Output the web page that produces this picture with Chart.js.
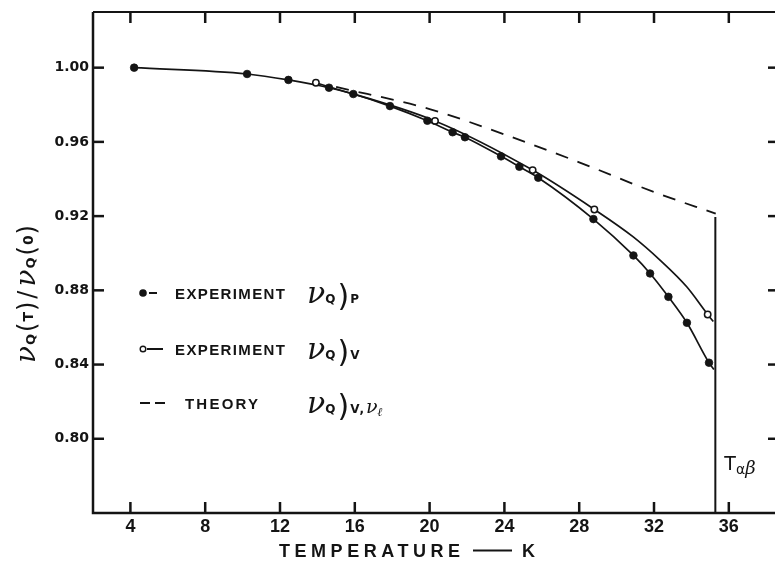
<!DOCTYPE html>
<html>
<head>
<meta charset="utf-8">
<script src="https://cdn.jsdelivr.net/npm/chart.js@4.4.1/dist/chart.umd.min.js"></script>
<style>
html,body{margin:0;padding:0;background:#fff;overflow:hidden}
canvas{display:block}
</style>
</head>
<body>
<canvas id="c" width="775" height="562"></canvas>
<script>
// ---- data ----
const xTickValues = [4, 8, 12, 16, 20, 24, 28, 32, 36];
const yTickValues = [0.80, 0.84, 0.88, 0.92, 0.96, 1.00];

// filled circles: experiment nu_Q)P
const pTemps  = [4.2, 10.24, 12.45, 14.62, 15.92, 17.88, 19.88, 21.23, 21.89, 23.82, 24.8, 25.81, 28.76, 30.9, 31.79, 32.77, 33.76, 34.94];
const pValues = [1.000, 0.9966, 0.9934, 0.9892, 0.9858, 0.9793, 0.9714, 0.9652, 0.9625, 0.9522, 0.9466, 0.9407, 0.9184, 0.8988, 0.8891, 0.8765, 0.8625, 0.8410];
// open circles: experiment nu_Q)V
const vTemps  = [13.92, 20.29, 25.51, 28.81, 34.87];
const vValues = [0.9919, 0.9713, 0.9448, 0.9236, 0.8670];
// the drawn curve through the open circles, read along its length
const vCurveTemps  = [13.92, 20.29, 25.51, 28.81, 30.89, 32.32, 33.75, 34.87, 35.17];
const vCurveValues = [0.9919, 0.9713, 0.9448, 0.9236, 0.9088, 0.8963, 0.8819, 0.8670, 0.8632];
// where the filled-circle curve stops, at the transition line
const pCurveEnd = [35.2, 0.8373];
// dashed theory curve nu_Q)V,nu_l
const theoryTemps  = [15.0, 20.0, 24.0, 28.0, 32.0, 35.3];
const theoryValues = [0.9896, 0.9777, 0.9640, 0.9490, 0.9330, 0.9213];
// transition temperature T_alpha_beta
const transitionTemp = 35.28;
const transitionValues = [0.9195, 0.76];

const legendLabels = ['EXPERIMENT', 'EXPERIMENT', 'THEORY'];
const xTitle = 'TEMPERATURE';
const xUnit = 'K';

// ---- drawing ----
const ink = '#141414';
const pts = (xs, ys) => xs.map((x, i) => ({x: x, y: ys[i]}));

function spacedText(ctx, text, x, y, width, font) {
  ctx.font = font;
  ctx.letterSpacing = '0px';
  const w = ctx.measureText(text).width;
  const sp = text.length > 1 ? (width - w) / (text.length - 1) : 0;
  ctx.letterSpacing = sp + 'px';
  ctx.textAlign = 'left';
  ctx.fillText(text, x, y);
  ctx.letterSpacing = '0px';
}
function richWidth(ctx, pieces) {
  let w = 0;
  pieces.forEach(p => { ctx.font = p.f; w += ctx.measureText(p.t).width + (p.g || 0); });
  return w;
}
function drawRich(ctx, pieces, x, y) {
  let cx = x;
  ctx.textAlign = 'left';
  pieces.forEach(p => {
    ctx.font = p.f;
    ctx.fillText(p.t, cx, y + (p.dy || 0));
    cx += ctx.measureText(p.t).width + (p.g || 0);
  });
}

const NU = 'italic 30px "DejaVu Serif"';
const SUB = 'bold 12px "DejaVu Sans"';
const PAREN = '30px "DejaVu Sans"';

const framePlugin = {
  id: 'frame',
  afterDraw(chart) {
    const ctx = chart.ctx;
    const a = chart.chartArea;
    const xs = chart.scales.x, ys = chart.scales.y;
    ctx.save();
    ctx.strokeStyle = ink;
    ctx.fillStyle = ink;
    ctx.lineCap = 'butt';
    // frame
    ctx.lineWidth = 2.5;
    ctx.beginPath();
    ctx.moveTo(a.left, a.top); ctx.lineTo(a.left, a.bottom); ctx.lineTo(a.right, a.bottom);
    ctx.stroke();
    ctx.lineWidth = 2;
    ctx.beginPath(); ctx.moveTo(a.left, a.top); ctx.lineTo(a.right, a.top); ctx.stroke();
    // inward ticks
    ctx.lineWidth = 2.5;
    xTickValues.forEach(v => {
      const px = xs.getPixelForValue(v);
      ctx.beginPath(); ctx.moveTo(px, a.bottom); ctx.lineTo(px, a.bottom - 11); ctx.stroke();
      ctx.beginPath(); ctx.moveTo(px, a.top); ctx.lineTo(px, a.top + 11); ctx.stroke();
    });
    yTickValues.forEach(v => {
      const py = ys.getPixelForValue(v);
      ctx.beginPath(); ctx.moveTo(a.left, py); ctx.lineTo(a.left + 11, py); ctx.stroke();
      ctx.beginPath(); ctx.moveTo(a.right - 7, py); ctx.lineTo(a.right, py); ctx.stroke();
    });

    // x title
    ctx.textBaseline = 'alphabetic';
    spacedText(ctx, xTitle, 279, 557, 181, 'bold 18px "Liberation Sans"');
    ctx.lineWidth = 2;
    ctx.beginPath(); ctx.moveTo(473, 550.5); ctx.lineTo(512, 550.5); ctx.stroke();
    ctx.font = 'bold 18px "Liberation Sans"';
    ctx.fillText(xUnit, 522, 557);

    // y title (rotated)
    const yt = [
      {t: 'ν', f: 'italic 28px "DejaVu Serif"', g: 1},
      {t: 'Q', f: 'bold 13px "DejaVu Sans"', g: 2},
      {t: '(', f: '24px "DejaVu Sans"', g: 1},
      {t: 'T', f: 'bold 14px "DejaVu Sans"', dy: -2.5, g: 1},
      {t: ')', f: '24px "DejaVu Sans"', g: 3},
      {t: '/', f: '24px "DejaVu Sans"', g: 4},
      {t: 'ν', f: 'italic 28px "DejaVu Serif"', g: 1},
      {t: 'Q', f: 'bold 13px "DejaVu Sans"', g: 2},
      {t: '(', f: '24px "DejaVu Sans"', g: 1},
      {t: '0', f: 'bold 14px "DejaVu Sans"', dy: -2.5, g: 1},
      {t: ')', f: '24px "DejaVu Sans"', g: 0}
    ];
    const yw = richWidth(ctx, yt);
    ctx.save();
    ctx.translate(35, 294 + yw / 2);
    ctx.rotate(-Math.PI / 2);
    drawRich(ctx, yt, 0, 0);
    ctx.restore();

    // legend
    const rows = [293, 349, 403];
    ctx.lineWidth = 2;
    ctx.beginPath(); ctx.arc(143, rows[0], 3.8, 0, Math.PI * 2); ctx.fill();
    ctx.beginPath(); ctx.moveTo(149, rows[0]); ctx.lineTo(157, rows[0]); ctx.stroke();
    ctx.lineWidth = 1.4;
    ctx.fillStyle = '#fff';
    ctx.beginPath(); ctx.arc(143, rows[1], 2.8, 0, Math.PI * 2); ctx.fill(); ctx.stroke();
    ctx.fillStyle = ink;
    ctx.lineWidth = 2;
    ctx.beginPath(); ctx.moveTo(147, rows[1]); ctx.lineTo(163, rows[1]); ctx.stroke();
    ctx.beginPath(); ctx.moveTo(140, rows[2]); ctx.lineTo(150, rows[2]); ctx.stroke();
    ctx.beginPath(); ctx.moveTo(155, rows[2]); ctx.lineTo(165, rows[2]); ctx.stroke();
    const legFont = 'bold 15px "Liberation Sans"';
    spacedText(ctx, legendLabels[0], 175, rows[0] + 5.5, 110, legFont);
    spacedText(ctx, legendLabels[1], 175, rows[1] + 5.5, 110, legFont);
    spacedText(ctx, legendLabels[2], 185, rows[2] + 5.5, 73, legFont);
    const mathHead = [
      {t: 'ν', f: NU, g: 0},
      {t: 'Q', f: SUB, g: 2},
      {t: ')', f: PAREN, dy: 3, g: 1}
    ];
    drawRich(ctx, mathHead.concat([{t: 'P', f: SUB}]), 307, rows[0] + 10);
    drawRich(ctx, mathHead.concat([{t: 'V', f: SUB}]), 307, rows[1] + 10);
    drawRich(ctx, mathHead.concat([
      {t: 'V', f: SUB, g: 0},
      {t: ',', f: SUB, g: 2},
      {t: 'ν', f: 'italic 19px "DejaVu Serif"', g: 0},
      {t: 'ℓ', f: 'bold italic 12px "DejaVu Serif"', dy: 3}
    ]), 307, rows[2] + 10);

    // T alpha beta
    const tx = xs.getPixelForValue(transitionTemp) + 9;
    drawRich(ctx, [
      {t: 'T', f: '19px "DejaVu Sans"', g: 0},
      {t: 'α', f: '14px "DejaVu Sans"', dy: 4, g: 0},
      {t: 'β', f: 'italic 18px "DejaVu Serif"', dy: 4}
    ], tx, 470);
    ctx.restore();
  }
};

new Chart(document.getElementById('c').getContext('2d'), {
  type: 'scatter',
  data: {
    datasets: [
      {label: 'P', data: pts(pTemps, pValues), showLine: false, pointRadius: 3.8,
       pointBackgroundColor: ink, pointBorderColor: ink, pointBorderWidth: 0.8},
      {label: 'V', data: pts(vTemps, vValues), showLine: false, pointRadius: 3.2,
       pointBackgroundColor: '#ffffff', pointBorderColor: ink, pointBorderWidth: 1.5},
      {label: 'P curve', data: pts(pTemps.concat([pCurveEnd[0]]), pValues.concat([pCurveEnd[1]])),
       showLine: true, pointRadius: 0, borderColor: ink, borderWidth: 1.7, cubicInterpolationMode: 'monotone'},
      {label: 'V curve', data: pts(vCurveTemps, vCurveValues),
       showLine: true, pointRadius: 0, borderColor: ink, borderWidth: 1.7, cubicInterpolationMode: 'monotone'},
      {label: 'Theory', data: pts(theoryTemps, theoryValues), showLine: true, pointRadius: 0,
       borderColor: ink, borderWidth: 1.8, borderDash: [13, 10], cubicInterpolationMode: 'monotone'},
      {label: 'Transition', data: pts([transitionTemp, transitionTemp], transitionValues), showLine: true,
       pointRadius: 0, borderColor: ink, borderWidth: 2}
    ]
  },
  options: {
    responsive: false,
    animation: false,
    events: [],
    plugins: {legend: {display: false}, tooltip: {enabled: false}},
    layout: {autoPadding: false, padding: {top: 12, right: 0, bottom: 0, left: 0}},
    scales: {
      x: {
        type: 'linear', position: 'bottom', min: 2, max: 38.47,
        grid: {display: false, drawTicks: false, tickLength: 0},
        border: {display: false},
        ticks: {padding: 3, color: ink, autoSkip: false, maxRotation: 0,
                font: {family: 'Liberation Sans', size: 18, weight: 'bold'},
                callback: v => String(v)},
        afterBuildTicks: s => { s.ticks = xTickValues.map(v => ({value: v})); },
        afterFit: s => { s.height = 49; s.paddingLeft = 0; s.paddingRight = 0; }
      },
      y: {
        type: 'linear', position: 'left', min: 0.76, max: 1.03,
        grid: {display: false, drawTicks: false, tickLength: 0},
        border: {display: false},
        ticks: {padding: 4, color: ink, autoSkip: false,
                font: {family: 'DejaVu Sans', size: 14, weight: 'bold'},
                callback: v => Number(v).toFixed(2)},
        afterBuildTicks: s => { s.ticks = yTickValues.map(v => ({value: v})); },
        afterFit: s => { s.width = 93; s.paddingTop = 0; s.paddingBottom = 0; }
      }
    }
  },
  plugins: [framePlugin]
});
</script>
</body>
</html>
